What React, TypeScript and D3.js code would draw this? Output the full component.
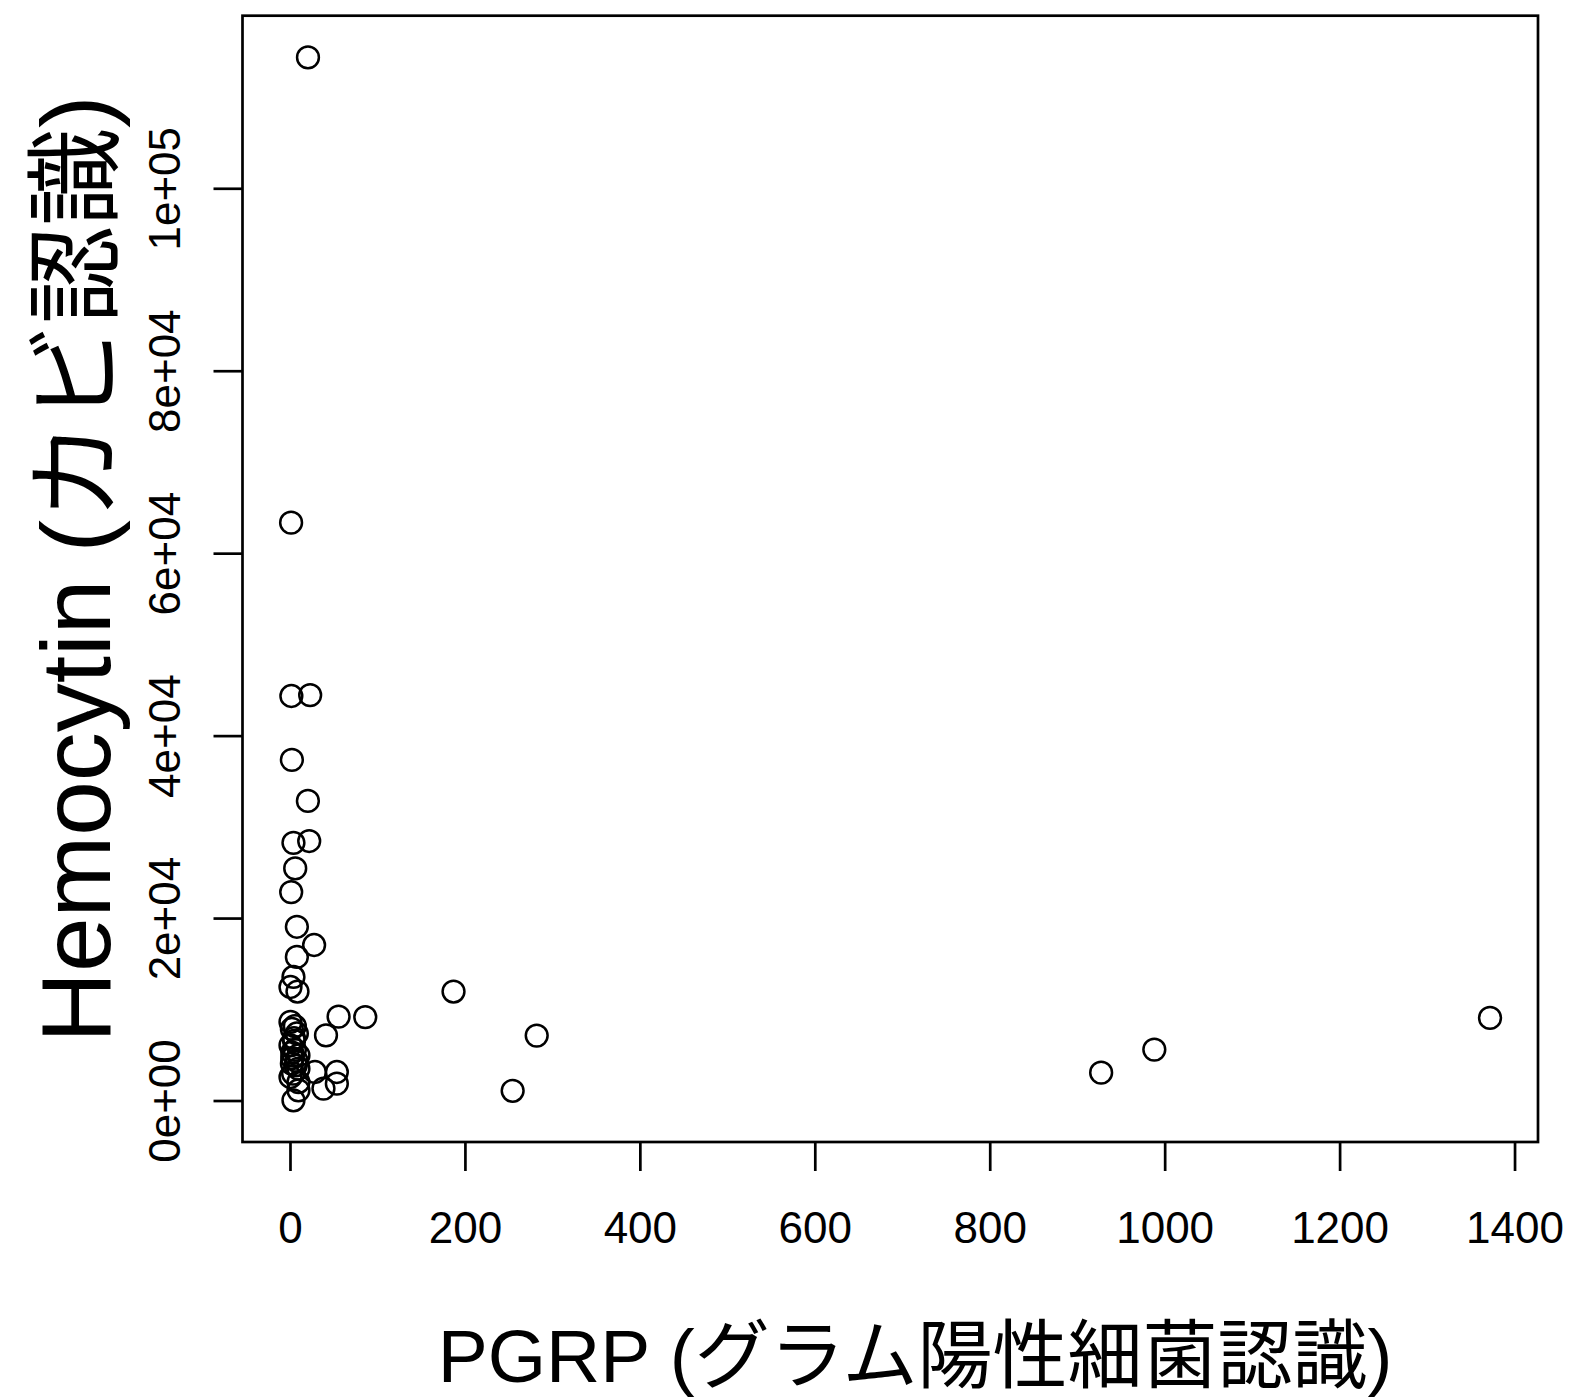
import React from "react";
import * as d3 from "d3";

const pgrp: number[] = [
  20, 0.7, 1, 22.5, 1.6, 19.9, 3.4, 21.4, 5.4, 0.8, 7.3, 27, 7.3, 3.4, 0, 8, 186.4,
  0, 55, 85.5, 40.6, 7.3, 1.6, 0, 9.1, 1.6, 9.1, 28, 0, 53, 53, 37.7, 9.1, 3.4, 9.1,
  281.5, 254, 926.8, 987.6, 1371.4,
  4, 5, 2, 6, 3, 5, 4, 7, 2,
];
const hemocytin: number[] = [
  114400, 63400, 44400, 44500, 37400, 32900, 28300, 28500, 25500, 22900, 19100, 17100, 15800, 13600, 12500, 12000, 12000,
  8670, 9250, 9200, 7200, 7400, 7900, 6100, 5000, 4100, 3550, 3180, 2630, 3180, 1900, 1360, 1170, 80, 2080,
  7175, 1120, 3105, 5640, 9110,
  6600, 5600, 4700, 3900, 3000, 8200, 6900, 4400, 5300,
];
const xTicks: number[] = [0, 200, 400, 600, 800, 1000, 1200, 1400];
const yTicks: number[] = [0, 20000, 40000, 60000, 80000, 100000];
const yTickLabels: string[] = ["0e+00", "2e+04", "4e+04", "6e+04", "8e+04", "1e+05"];
const xLabel = "PGRP (グラム陽性細菌認識)";
const yLabel = "Hemocytin (カビ認識)";

const W = 1573;
const H = 1398;
const L = 242.5, R = 1538, T = 15.7, B = 1142;

function ext(vals: number[]): [number, number] {
  const [a, b] = d3.extent(vals) as [number, number];
  const p = (b - a) * 0.04;
  return [a - p, b + p];
}

export default function App() {
  const x = d3.scaleLinear().domain(ext(pgrp)).range([L, R]);
  const y = d3.scaleLinear().domain(ext(hemocytin)).range([B, T]);
  const font = "'Liberation Sans', Arial, 'Noto Sans CJK JP', sans-serif";
  const sw = 2.7;
  const tickLen = 29;
  return (
    <svg width={W} height={H} style={{ position: "absolute", left: 0, top: 0, background: "#fff" }}
      fontFamily={font}>
      <rect x={0} y={0} width={W} height={H} fill="#fff" />
      <rect x={L} y={T} width={R - L} height={B - T} fill="none" stroke="#000" strokeWidth={sw} />
      {pgrp.map((v, i) => (
        <circle key={i} cx={x(v)} cy={y(hemocytin[i])} r={10.9} fill="none" stroke="#000" strokeWidth={2.5} />
      ))}
      {xTicks.map((t) => (
        <g key={t}>
          <line x1={x(t)} x2={x(t)} y1={B} y2={B + tickLen} stroke="#000" strokeWidth={sw} />
          <text x={x(t)} y={1243} fontSize={44} textAnchor="middle">{t}</text>
        </g>
      ))}
      {yTicks.map((t, i) => (
        <g key={t}>
          <line x1={L} x2={L - tickLen} y1={y(t)} y2={y(t)} stroke="#000" strokeWidth={sw} />
          <text transform={`translate(179.6,${y(t)}) rotate(-90)`} fontSize={44} textAnchor="middle">
            {yTickLabels[i]}
          </text>
        </g>
      ))}
      <text x={915} y={1382} fontSize={75} textAnchor="middle">{xLabel}</text>
      <text transform={`translate(110,569) rotate(-90)`} fontSize={98} textAnchor="middle">{yLabel}</text>
    </svg>
  );
}
